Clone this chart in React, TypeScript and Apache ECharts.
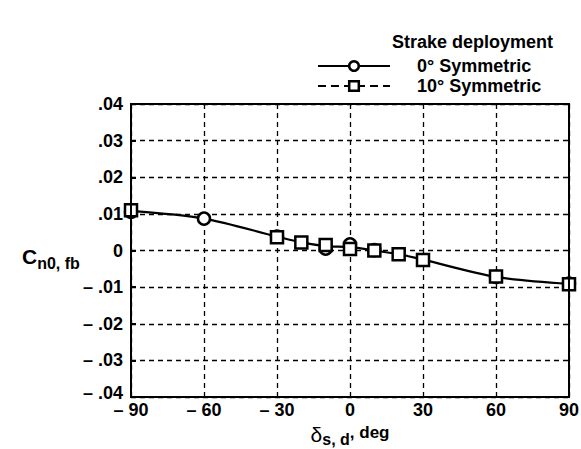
import React, { useEffect, useRef } from "react";
import * as echarts from "echarts";

const deflections = [-90, -60, -30, -20, -10, 0, 10, 20, 30, 60, 90];
const sym0 = [0.0105, 0.0087, 0.0038, null, 0.0005, 0.0017, 0.0001, null, null, -0.0072, -0.009];
const sym10 = [0.011, null, 0.0036, 0.0022, 0.0015, 0.0004, 0.0, -0.001, -0.0026, -0.0071, -0.0092];
const fairing = [0.0108, 0.0087, 0.0038, 0.0022, 0.0012, 0.0009, 0.0, -0.001, -0.0025, -0.0072, -0.0091];
const seriesNames = ["0° Symmetric", "10° Symmetric"];
const legendTitle = "Strake deployment";

const FONT = "'Liberation Sans', Arial, Helvetica, sans-serif";

export default function App() {
  const ref = useRef<HTMLDivElement>(null);
  useEffect(() => {
    const chart = echarts.init(ref.current!, null, { renderer: "svg" });
    const toPairs = (arr: (number | null)[]) =>
      deflections.map((d, i) => [d, arr[i]]).filter((p) => p[1] !== null);
    const fmtY = (v: number) => {
      const r = Math.round(v * 100) / 100;
      if (r === 0) return "0";
      const s = Math.abs(r).toFixed(2).replace(/^0/, "");
      if (r <= -0.04) return "{lo|– " + s + "}";
      return r < 0 ? "– " + s : s;
    };
    const fmtX = (v: number) => (v < 0 ? "– " + Math.abs(v) : String(v));
    const markerStyle = { color: "#fff", borderColor: "#000", borderWidth: 2.5 };
    chart.setOption({
      animation: false,
      backgroundColor: "#fff",
      grid: { left: 131, right: 12, top: 104, bottom: 52, show: false, containLabel: false, outerBoundsMode: "none" },
      legend: {
        orient: "vertical",
        left: 312,
        top: 52,
        itemWidth: 72,
        itemHeight: 12,
        itemGap: 2,
        data: [
          {
            name: seriesNames[0],
            itemStyle: markerStyle,
            lineStyle: { color: "#000", width: 2, type: "solid", opacity: 1 },
          },
          {
            name: seriesNames[1],
            itemStyle: markerStyle,
            lineStyle: { color: "#000", width: 2, type: [8, 5], opacity: 1 },
          },
        ],
        textStyle: {
          fontFamily: FONT,
          fontWeight: "bold",
          fontSize: 18,
          color: "#000",
          padding: [0, 0, 0, 22],
        },
      },
      xAxis: {
        type: "value",
        min: -90,
        max: 90,
        interval: 30,
        axisLine: { show: true, onZero: false, lineStyle: { color: "#000", width: 2 } },
        axisTick: { show: false },
        splitLine: { show: true, lineStyle: { color: "#000", type: [5, 4], width: 1.3 } },
        axisLabel: {
          formatter: fmtX,
          color: "#000",
          fontFamily: FONT,
          fontWeight: "bold",
          fontSize: 18,
          margin: 4,
        },
        name: "{d|δ}{s|s, d}{n|, deg}",
        nameLocation: "middle",
        nameGap: 24,
        nameTextStyle: {
          verticalAlign: "top",
          rich: {
            d: { fontFamily: FONT, fontSize: 21, color: "#000" },
            s: { fontFamily: FONT, fontSize: 16, fontWeight: "bold", color: "#000", padding: [10, 0, 0, 0] },
            n: { fontFamily: FONT, fontSize: 17, fontWeight: "bold", color: "#000", padding: [0, 0, 4, 0] },
          },
        },
      },
      yAxis: {
        type: "value",
        min: -0.04,
        max: 0.04,
        interval: 0.01,
        axisLine: { show: true, onZero: false, lineStyle: { color: "#000", width: 2 } },
        axisTick: { show: true, inside: true, length: 5, lineStyle: { color: "#000", width: 2 } },
        splitLine: { show: true, lineStyle: { color: "#000", type: [5, 4], width: 1.3 } },
        axisLabel: {
          formatter: fmtY,
          color: "#000",
          fontFamily: FONT,
          fontWeight: "bold",
          fontSize: 18,
          margin: 8,
          rich: {
            lo: { fontFamily: FONT, fontWeight: "bold", fontSize: 18, color: "#000", padding: [0, 0, 8, 0] },
          },
        },
      },
      graphic: [
        {
          type: "rect",
          shape: { x: 131, y: 104, width: 438, height: 293 },
          style: { fill: "none", stroke: "#000", lineWidth: 2 },
          silent: true,
          z: 10,
        },
        {
          type: "text",
          x: 392,
          y: 33,
          style: {
            text: legendTitle,
            fontFamily: FONT,
            fontWeight: "bold",
            fontSize: 18,
            fill: "#000",
          },
        },
        {
          type: "text",
          x: 22,
          y: 242,
          style: {
            text: "{c|C}{s|n0, fb}",
            rich: {
              c: { fontFamily: FONT, fontSize: 21, fontWeight: "bold", fill: "#000" } as any,
              s: { fontFamily: FONT, fontSize: 16, fontWeight: "bold", fill: "#000", padding: [13, 0, 0, 0] } as any,
            },
          } as any,
        },
      ],
      series: [
        {
          name: "fairing",
          type: "line",
          data: toPairs(fairing),
          showSymbol: false,
          smooth: 0.3,
          lineStyle: { color: "#000", width: 2.2 },
          z: 2,
          silent: true,
        },
        {
          name: seriesNames[0],
          type: "line",
          data: toPairs(sym0),
          symbol: "circle",
          symbolSize: 12,
          showSymbol: true,
          lineStyle: { opacity: 0 },
          itemStyle: markerStyle,
          z: 3,
        },
        {
          name: seriesNames[1],
          type: "line",
          data: toPairs(sym10),
          symbol: "rect",
          symbolSize: 12,
          showSymbol: true,
          lineStyle: { opacity: 0 },
          itemStyle: markerStyle,
          z: 4,
        },
      ],
    });
    return () => chart.dispose();
  }, []);
  return (
    <div
      ref={ref}
      style={{ width: 581, height: 449, position: "absolute", left: 0, top: 0, background: "#fff" }}
    />
  );
}
